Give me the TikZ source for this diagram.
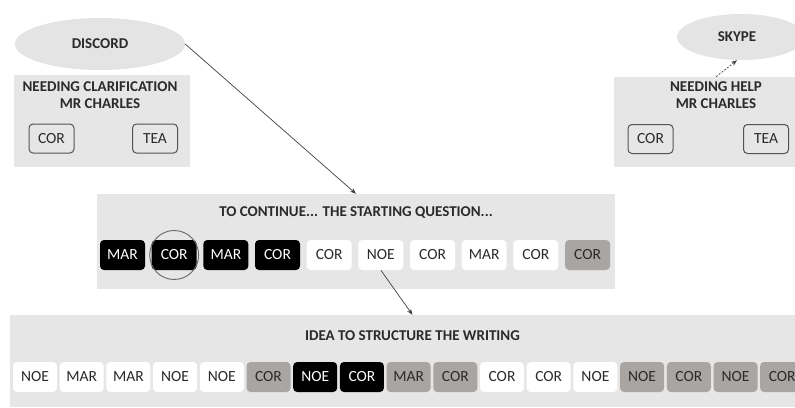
\documentclass[tikz,border=0pt]{standalone}
\usepackage{fontspec}
\setmainfont{Carlito}
\usetikzlibrary{arrows.meta,shapes.geometric}
\definecolor{panel}{HTML}{E6E6E6}
\definecolor{ellfill}{HTML}{E4E4E4}
\definecolor{chipgray}{HTML}{A9A5A3}
\definecolor{txt}{HTML}{2A2A2A}
\definecolor{linec}{HTML}{404040}
\tikzset{
  panelbox/.style={fill=panel, draw=none},
  cloud/.style={ellipse, fill=ellfill, draw=none, inner sep=0pt},
  ttl/.style={font=\fontsize{15}{17.5}\selectfont\bfseries, text=txt, align=center, inner sep=0pt},
  chip/.style={rounded corners=4pt, minimum height=30pt, inner sep=0pt, font=\fontsize{15.5}{17}\selectfont},
  wchip/.style={chip, fill=white, text=txt},
  bchip/.style={chip, fill=black, text=white},
  gchip/.style={chip, fill=chipgray, text=txt},
  ochip/.style={rounded corners=4pt, minimum width=45pt, minimum height=29pt, inner sep=0pt, draw=linec!90, line width=1pt, fill=panel, text=txt, font=\fontsize{15.5}{17}\selectfont},
  conn/.style={draw=linec, line width=0.7pt, -{Stealth[length=6pt,width=4.5pt]}},
}
\begin{document}
\begin{tikzpicture}[x=1pt,y=-1pt]
\useasboundingbox (0,0) rectangle (795,407);
% panels
\node[panelbox, minimum width=176pt, minimum height=92pt, inner sep=0pt] (leftbox) at (102,121) {};
\node[panelbox, minimum width=204pt, minimum height=90pt, inner sep=0pt] (rightbox) at (716,122) {};
\node[panelbox, minimum width=518pt, minimum height=95pt, inner sep=0pt] (midbox) at (356,241.5) {};
\node[panelbox, minimum width=805pt, minimum height=92pt, inner sep=0pt] (botbox) at (412.5,361) {};
% ellipses
\node[cloud, minimum width=170pt, minimum height=52pt] (discord) at (100,44) {};
\node[ttl] at (discord.center) {DISCORD};
\node[cloud, minimum width=128pt, minimum height=46pt] (skype) at (741,37) {};
\node[ttl] at (737,37) {SKYPE};
% titles
\node[ttl] (lt) at (100,95) {NEEDING CLARIFICATION\\MR CHARLES};
\node[ttl] (rt) at (716,95) {NEEDING HELP\\MR CHARLES};
\node[ttl] (mt) at (356,213) {TO CONTINUE... THE STARTING QUESTION...};
\node[ttl] (bt) at (412.5,336) {IDEA TO STRUCTURE THE WRITING};
% small chips
\node[ochip] (lc) at (51.5,138.5) {COR};
\node[ochip] (lte) at (155,138.5) {TEA};
\node[ochip] (rc) at (650.5,139) {COR};
\node[ochip] (rte) at (766,139) {TEA};
% middle chips
\foreach \lab/\sty [count=\i from 0] in {MAR/bchip,COR/bchip,MAR/bchip,COR/bchip,COR/wchip,NOE/wchip,COR/wchip,MAR/wchip,COR/wchip,COR/gchip}{
  \node[\sty, minimum width=45pt] (m\i) at (122.5+\i*51.67,255) {\lab};
}
% bottom chips
\foreach \lab/\sty [count=\i from 0] in {NOE/wchip,MAR/wchip,MAR/wchip,NOE/wchip,NOE/wchip,COR/gchip,NOE/bchip,COR/bchip,MAR/gchip,COR/gchip,COR/wchip,COR/wchip,NOE/wchip,NOE/gchip,COR/gchip,NOE/gchip,COR/gchip}{
  \node[\sty, minimum width=44pt] (b\i) at (35+\i*46.7,377) {\lab};
}
% circle highlight
\node[circle, draw=linec!80, line width=0.9pt, minimum size=49pt, inner sep=0pt] (hl) at (m1) {};
% connectors
\draw[conn] (discord.east) -- (midbox.north);
\draw[conn] (m5.south) -- (botbox.north);
\draw[conn, dashed, dash pattern=on 2pt off 1.5pt] (rightbox.north) -- (skype.south -| 737,0);
\end{tikzpicture}
\end{document}
